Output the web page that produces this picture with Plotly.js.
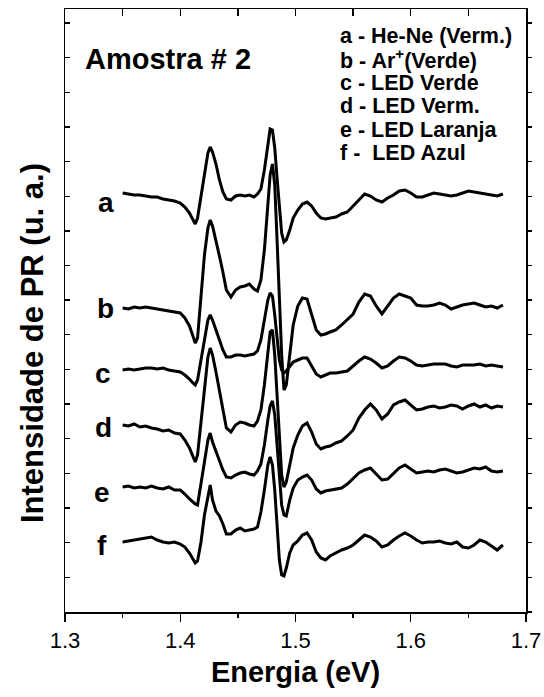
<!DOCTYPE html>
<html>
<head>
<meta charset="utf-8">
<script src="https://cdn.plot.ly/plotly-3.0.1.min.js"></script>
<style>html,body{margin:0;padding:0;background:#fff;}#chart{width:544px;height:697px;}</style>
</head>
<body>
<div id="chart"></div>
<script>
// Photon energy (eV)
const energy = [1.350,1.355,1.360,1.365,1.370,1.375,1.380,1.385,1.390,1.395,
1.400,1.404,1.408,1.411,1.413,1.415,1.418,1.421,1.424,1.426,
1.428,1.431,1.434,1.437,1.440,1.444,1.448,1.452,1.456,1.460,
1.464,1.467,1.470,1.473,1.476,1.478,1.480,1.482,1.484,1.486,
1.488,1.490,1.492,1.495,1.498,1.502,1.506,1.510,1.514,1.518,
1.522,1.526,1.530,1.535,1.540,1.545,1.550,1.555,1.560,1.565,
1.570,1.575,1.580,1.585,1.590,1.595,1.600,1.605,1.610,1.615,
1.620,1.625,1.630,1.635,1.640,1.645,1.650,1.655,1.660,1.665,
1.670,1.675,1.680];

// PR intensity (arb. units, offset curves)
const curveA = [419,418,417,417,416,415,415,413,412,411,
409,405,399,392,388,394,416,440,459,465,
460,448,432,420,413,412,416,417,416,417,
415,418,423,442,469,483,482,464,434,402,
379,370,372,382,394,402,408,410,406,399,
394,393,394,395,398,400,406,412,418,416,
412,410,414,417,421,422,419,415,415,417,
419,418,417,416,417,419,421,420,419,418,
417,416,418];
const curveB = [304,303,305,304,305,304,303,302,301,300,
299,294,286,276,269,274,317,357,384,392,
386,372,356,340,322,315,322,325,326,328,
323,321,332,362,407,437,448,427,372,312,
257,222,227,257,287,306,314,313,297,282,
277,278,280,282,287,292,298,310,318,316,
306,298,306,314,318,316,314,307,306,306,
307,309,307,303,305,307,308,309,307,305,
306,304,307];
const curveC = [242,243,242,243,244,244,243,244,242,241,
240,237,233,229,227,232,252,274,292,297,
292,282,271,262,255,255,257,257,256,257,
258,261,272,292,312,319,316,297,272,252,
242,239,241,246,250,252,254,254,246,238,
235,237,239,239,240,241,246,251,255,253,
249,244,246,251,255,254,251,247,246,247,
248,248,248,246,245,247,247,247,248,246,
247,246,245];
const curveD = [187,186,188,185,186,184,183,181,182,179,
178,172,164,155,150,157,192,227,255,264,
257,240,220,200,184,180,187,190,189,187,
186,191,202,227,260,280,282,257,217,172,
137,125,130,147,164,177,186,189,180,168,
163,165,166,169,171,176,182,194,202,208,
202,193,198,207,210,212,207,202,203,205,
206,204,205,207,206,203,206,208,205,207,
204,206,205];
const curveE = [125,126,124,125,124,126,124,123,125,122,
122,118,113,110,108,107,127,150,172,179,
170,160,151,142,135,134,137,139,140,138,
137,141,148,167,192,206,211,197,167,132,
107,97,96,112,124,132,135,137,132,123,
119,121,122,123,124,128,134,139,142,144,
138,132,133,139,144,147,143,139,140,141,
140,142,143,141,139,140,142,144,143,145,
141,140,141];
const curveF = [70,71,72,73,74,75,72,70,69,70,
68,65,59,53,49,51,70,97,115,127,
112,101,96,88,78,78,82,84,81,82,
83,85,100,122,147,155,147,122,82,52,
37,36,44,59,67,71,77,79,72,60,
54,52,56,59,62,64,67,72,77,75,
71,65,67,72,76,79,76,72,69,70,
70,71,69,68,70,65,64,67,72,70,
66,62,67];

const curveLetters = ['a','b','c','d','e','f'];
const letterE = [1.336,1.335,1.333,1.333,1.332,1.332];
const letterY = [410,304,239,185,120,67];
const legendLines = ['a - He-Ne (Verm.)','b - Ar<sup>+</sup>(Verde)','c - LED Verde','d - LED Verm.','e - LED Laranja','f -\u00a0\u00a0LED Azul'];
const sampleTitle = 'Amostra # 2';
const yTitle = 'Intensidade de PR (u. a.)';

const curves = [curveA, curveB, curveC, curveD, curveE, curveF];
const FONT = '"Liberation Sans", Arial, Helvetica, sans-serif';

const traces = curves.map(c => ({
  x: energy, y: c, type: 'scatter', mode: 'lines',
  line: {color: '#000', width: 3}, hoverinfo: 'skip', showlegend: false
}));
traces.push({x: [], y: [], xaxis: 'x2', yaxis: 'y', showlegend: false});
traces.push({x: [], y: [], xaxis: 'x', yaxis: 'y2', showlegend: false});

const annotations = [];
curveLetters.forEach((t, i) => annotations.push({
  x: letterE[i], y: letterY[i], xref: 'x', yref: 'y', text: t, showarrow: false,
  font: {family: FONT, size: 28, weight: 'bold', color: '#000'}
}));
legendLines.forEach((t, i) => annotations.push({
  x: (338 - 65) / 461, y: (612 - (36 + i * 23.4)) / 603, xref: 'paper', yref: 'paper',
  xanchor: 'left', yanchor: 'middle', text: t, showarrow: false,
  font: {family: FONT, size: 21.5, weight: 'bold', color: '#000'}
}));
annotations.push({
  x: (83 - 65) / 461, y: (612 - 59) / 603, xref: 'paper', yref: 'paper',
  xanchor: 'left', yanchor: 'middle', text: sampleTitle, showarrow: false,
  font: {family: FONT, size: 29, weight: 'bold', color: '#000'}
});
annotations.push({
  x: (33 - 65) / 461, y: (612 - 343) / 603, xref: 'paper', yref: 'paper',
  xanchor: 'center', yanchor: 'middle', textangle: -90, text: yTitle, showarrow: false,
  font: {family: FONT, size: 31, weight: 'bold', color: '#000'}
});

const layout = {
  width: 544, height: 697,
  margin: {l: 65, r: 18, t: 9, b: 85},
  paper_bgcolor: '#fff', plot_bgcolor: '#fff',
  font: {family: FONT, color: '#000'},
  showlegend: false,
  xaxis: {
    range: [1.3, 1.7], tick0: 1.3, dtick: 0.1, tickformat: '.1f',
    ticks: 'outside', ticklen: 8, tickwidth: 1.3, tickcolor: '#000',
    minor: {dtick: 0.05, ticks: 'outside', ticklen: 4, tickwidth: 1.3, tickcolor: '#000'},
    showline: true, linecolor: '#000', linewidth: 1.5,
    showgrid: false, zeroline: false,
    tickfont: {family: FONT, size: 22, color: '#000'},
    title: {text: 'Energia (eV)', font: {family: FONT, size: 29, weight: 'bold', color: '#000'}, standoff: 10}
  },
  xaxis2: {
    overlaying: 'x', side: 'top', anchor: 'y', matches: 'x',
    range: [1.3, 1.7], tick0: 1.3, dtick: 0.05,
    ticks: 'inside', ticklen: 7, tickwidth: 1.3, tickcolor: '#000',
    showticklabels: false, showline: true, linecolor: '#000', linewidth: 1.5,
    showgrid: false, zeroline: false
  },
  yaxis: {
    range: [0, 603], tick0: 0, dtick: 34.65,
    ticks: 'inside', ticklen: 5, tickwidth: 1.3, tickcolor: '#000',
    showticklabels: false, showline: true, linecolor: '#000', linewidth: 1.5,
    showgrid: false, zeroline: false
  },
  yaxis2: {
    overlaying: 'y', side: 'right', anchor: 'x', matches: 'y',
    range: [0, 603], tick0: 0, dtick: 34.65,
    ticks: 'outside', ticklen: 4, tickwidth: 1.3, tickcolor: '#000',
    showticklabels: false, showline: true, linecolor: '#000', linewidth: 1.5,
    showgrid: false, zeroline: false
  },
  annotations: annotations
};

Plotly.newPlot('chart', traces, layout, {staticPlot: true, displayModeBar: false});
</script>
</body>
</html>
